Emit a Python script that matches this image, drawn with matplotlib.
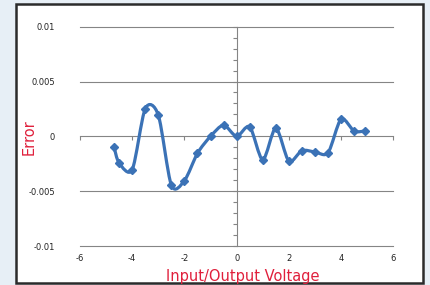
import numpy as np
import matplotlib
matplotlib.use("Agg")
import matplotlib.pyplot as plt
from matplotlib.path import Path
from matplotlib.patches import PathPatch, Rectangle
from matplotlib.ticker import MultipleLocator

# ---- data ----
voltage = [-4.7, -4.5, -4.0, -3.5, -3.0, -2.5, -2.0, -1.5, -1.0, -0.5, 0.0,
           0.5, 1.0, 1.5, 2.0, 2.5, 3.0, 3.5, 4.0, 4.5, 4.9]
error = [-0.00093, -0.00244, -0.00304, 0.00253, 0.00193, -0.00446, -0.00404,
         -0.00154, 0.0, 0.00102, 0.0, 0.00087, -0.00214, 0.00075, -0.00226,
         -0.00130, -0.00142, -0.00150, 0.00157, 0.00048, 0.00048]
x_ticks = [-6, -4, -2, 0, 2, 4, 6]
y_ticks = [-0.01, -0.005, 0, 0.005, 0.01]
y_tick_labels = ["-0.01", "-0.005", "0", "0.005", "0.01"]
x_label = "Input/Output Voltage"
y_label = "Error"

line_color = "#3b72b6"
label_color = "#e0203c"
axis_color = "#858585"

fig = plt.figure(figsize=(4.3, 2.85), dpi=100)
fig.patch.set_facecolor("#e7eff6")
fig.patches.append(Rectangle((16 / 430, 1 - 283 / 285), (423 - 16) / 430, (283 - 4) / 285,
                             transform=fig.transFigure, facecolor="white",
                             edgecolor="#2b2b2b", linewidth=1.8, zorder=-10))

ax = fig.add_axes([80 / 430, 1 - 246 / 285, 313.3 / 430, (246 - 26.7) / 285])
ax.set_zorder(1)
ax.set_facecolor("none")
ax.set_xlim(-6, 6)
ax.set_ylim(-0.01, 0.01)
for s in ax.spines.values():
    s.set_visible(False)

# gridlines and crossing axis lines
for yv in y_ticks:
    if yv != 0:
        ax.axhline(yv, color=axis_color, linewidth=0.8, zorder=1, clip_on=False)
ax.axhline(0, color=axis_color, linewidth=0.8, zorder=1, clip_on=False)
ax.axvline(0, color=axis_color, linewidth=0.8, zorder=1, clip_on=False)

ax.set_xticks(x_ticks)
ax.set_xticklabels([str(v) for v in x_ticks])
ax.set_yticks(y_ticks)
ax.set_yticklabels(y_tick_labels)
ax.tick_params(axis="both", length=0, labelsize=6, colors="#222222", pad=6)
ax.tick_params(axis="y", pad=18)

# tick marks on the crossing axes
sx = ax.secondary_xaxis(0.5)
sx.set_xticks(x_ticks)
sx.xaxis.set_ticks_position("bottom")
sx.tick_params(axis="x", direction="out", length=3, color=axis_color,
               labelbottom=False, labeltop=False, width=0.8)
for k in sx.spines:
    sx.spines[k].set_visible(False)

sy = ax.secondary_yaxis(0.5)
sy.set_yticks(y_ticks)
sy.yaxis.set_minor_locator(MultipleLocator(0.001))
sy.yaxis.set_ticks_position("left")
sy.tick_params(axis="y", which="both", direction="out", length=3, color=axis_color,
               labelleft=False, labelright=False, width=0.8)
for k in sy.spines:
    sy.spines[k].set_visible(False)

# smoothed line (Bezier through the data points, Excel-like smoothing)
xs = np.array(voltage)
ys = np.array(error)
verts = [(xs[0], ys[0])]
codes = [Path.MOVETO]
n = len(xs)
t = 0.14
for i in range(n - 1):
    p0 = (xs[max(i - 1, 0)], ys[max(i - 1, 0)])
    p1 = (xs[i], ys[i])
    p2 = (xs[i + 1], ys[i + 1])
    p3 = (xs[min(i + 2, n - 1)], ys[min(i + 2, n - 1)])
    c1 = (p1[0] + (p2[0] - p0[0]) * t, p1[1] + (p2[1] - p0[1]) * t)
    c2 = (p2[0] - (p3[0] - p1[0]) * t, p2[1] - (p3[1] - p1[1]) * t)
    verts += [c1, c2, p2]
    codes += [Path.CURVE4] * 3
ax.add_patch(PathPatch(Path(verts, codes), facecolor="none", edgecolor=line_color,
                       linewidth=2.3, zorder=3, capstyle="round", joinstyle="round"))
ax.plot(voltage, error, linestyle="none", marker="D", markersize=4.5,
        color=line_color, zorder=4)

fig.text(29 / 430, 1 - 137 / 285, y_label, rotation=90, color=label_color,
         fontsize=10.5, ha="center", va="center")
fig.text(243 / 430, 1 - 277 / 285, x_label, color=label_color,
         fontsize=10.5, ha="center", va="center")

fig.savefig("out.png", dpi=100, facecolor=fig.get_facecolor())
